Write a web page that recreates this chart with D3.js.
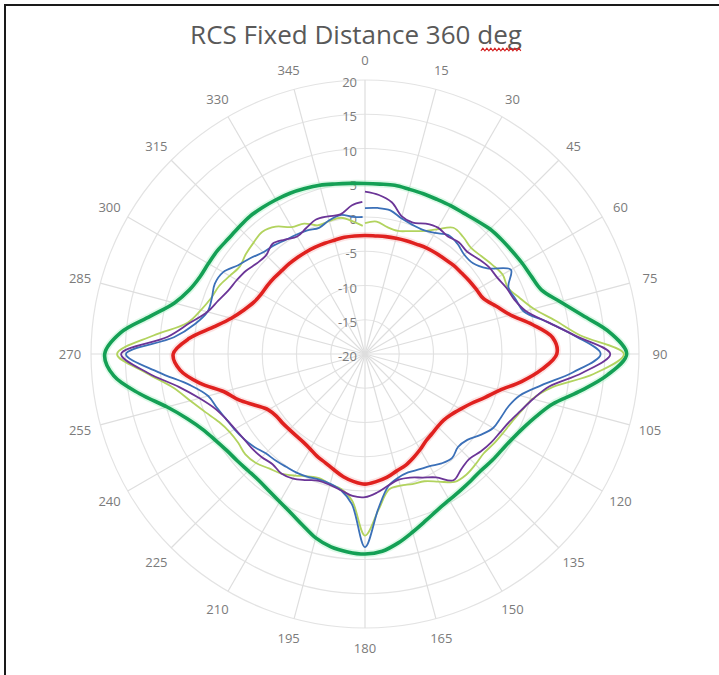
<!DOCTYPE html>
<html><head><meta charset="utf-8">
<script src="https://cdn.jsdelivr.net/npm/d3@7/dist/d3.min.js"></script>
<style>body{margin:0;background:#fff}svg{display:block}</style></head>
<body><svg id="c" width="719" height="675"></svg>
<script>
const title = "RCS Fixed Distance 360 deg";
const angles = [0,5,10,15,20,25,30,35,40,45,50,55,60,65,70,75,80,85,90,95,100,105,110,115,120,125,130,135,140,145,150,155,160,165,170,175,180,185,190,195,200,205,210,215,220,225,230,235,240,245,250,255,260,265,270,275,280,285,290,295,300,305,310,315,320,325,330,335,340,345,350,355,359];
const angleTicks = [0,15,30,45,60,75,90,105,120,135,150,165,180,195,210,225,240,255,270,285,300,315,330,345];
const radialTicks = [-20,-15,-10,-5,0,5,10,15,20];
const greenSeries = [4.9,4.9,5.0,4.9,4.9,4.9,5.0,5.1,5.4,5.8,6.0,6.2,6.5,6.8,7.4,9.5,12.3,15.9,18.2,15.5,11.7,8.3,6.6,5.5,4.8,4.4,4.2,4.0,4.1,4.3,4.6,5.1,5.9,6.9,8.0,8.9,9.2,9.0,8.6,7.8,6.6,5.6,4.9,4.4,4.1,4.1,4.3,4.6,5.2,6.1,7.6,9.9,13.4,16.8,18.0,15.8,11.8,8.8,7.3,6.6,6.4,6.3,6.1,6.1,6.2,6.1,6.0,5.9,5.7,5.5,5.2,5.0,4.9];
const redSeries = [-2.7,-2.7,-2.6,-2.5,-2.4,-2.3,-2.1,-2.0,-1.9,-1.7,-1.6,-1.4,-1.2,-0.9,0.4,2.0,4.8,7.5,8.0,5.9,3.2,0.4,-1.4,-2.9,-3.9,-4.6,-5.0,-5.0,-4.8,-4.5,-3.9,-3.3,-2.7,-2.3,-1.7,-1.3,-1.0,-1.3,-1.8,-2.5,-3.1,-3.5,-4.0,-4.3,-4.4,-4.4,-4.3,-4.2,-3.7,-2.3,-0.4,1.3,4.5,7.1,8.0,5.8,2.5,0.2,-1.2,-2.1,-2.5,-2.6,-2.7,-2.8,-2.8,-2.8,-2.8,-2.8,-2.8,-2.8,-2.7,-2.7,-2.7];
const purpleSeries = [3.7,3.3,2.5,0.8,0.4,1.0,1.3,1.0,1.3,1.1,1.6,2.1,2.3,2.8,3.2,4.3,7.0,10.8,15.8,11.8,7.3,5.4,4.2,3.3,2.8,2.5,2.1,1.6,1.9,2.5,0.8,-0.1,-0.8,-1.0,-0.5,0.3,0.9,0.8,0.2,-0.2,-0.3,0.3,1.0,1.3,1.0,1.3,1.5,1.6,1.9,2.4,3.3,5.0,7.6,11.8,15.6,8.9,6.0,3.8,2.8,2.0,1.6,1.2,0.6,0.4,1.0,0.4,-0.2,0.3,0.9,0.8,0.7,1.8,2.2];
const blueSeries = [1.3,1.4,1.3,0.5,0.1,0.0,0.4,1.2,1.0,0.5,0.6,1.8,4.6,3.1,3.4,4.0,7.0,10.7,14.4,10.5,6.2,3.4,2.3,1.9,1.6,0.6,-0.5,-0.8,-0.2,-0.5,-1.1,-1.4,-1.6,-1.3,-0.4,2.6,8.2,2.0,0.2,-0.4,-0.5,-0.2,0.0,0.1,0.3,0.5,1.1,1.6,2.0,2.4,3.0,3.7,6.0,10.3,14.9,8.0,5.2,3.8,3.8,4.2,3.9,2.6,1.8,1.0,0.7,0.3,0.1,-0.1,-0.4,0.2,0.6,0.1,0.0];
const limeSeries = [-0.9,-0.6,-1.2,-1.4,-0.9,-0.2,1.0,2.5,2.3,1.9,2.2,2.7,3.2,3.0,4.0,5.5,8.2,11.5,17.8,13.5,7.8,5.3,4.3,3.6,3.2,2.9,2.6,2.8,3.0,2.8,1.5,0.5,0.2,-0.1,0.1,2.8,6.5,1.5,0.0,-0.3,-0.7,-0.3,0.5,1.3,1.8,2.5,2.8,2.6,2.8,3.5,4.8,6.4,8.4,12.0,16.2,11.0,6.3,4.8,3.9,3.5,2.8,2.3,2.7,3.0,3.3,2.7,1.4,1.0,0.0,0.1,0.2,-0.6,-1.3];

const W = 719, H = 675, cx = 365, cy = 354, R = 274;
const svg = d3.select("#c");
svg.append("rect").attr("width", W).attr("height", H).attr("fill", "#fff");

// frame
svg.append("path").attr("d", `M5,${H} V5 H${W}`).attr("fill", "none").attr("stroke", "#1a1a1a").attr("stroke-width", 2);

const r = d3.scaleLinear().domain([-20, 20]).range([0, R]);
const a = d3.scaleLinear().domain([0, 360]).range([0, 2 * Math.PI]);
const g = svg.append("g").attr("transform", `translate(${cx},${cy})`);

// rings
g.selectAll("circle.ring").data(radialTicks.slice(1)).join("circle")
  .attr("class", "ring").attr("r", d => r(d)).attr("fill", "none")
  .attr("stroke", "#e3e3e3").attr("stroke-width", 1.2);
// spokes
g.selectAll("line.spoke").data(angleTicks).join("line")
  .attr("x1", 0).attr("y1", 0)
  .attr("x2", d => R * Math.sin(a(d))).attr("y2", d => -R * Math.cos(a(d)))
  .attr("stroke", "#dedede").attr("stroke-width", 1.2);

const labelFont = "'Open Sans', 'Liberation Sans', sans-serif";
// angle labels
g.selectAll("text.ang").data(angleTicks).join("text")
  .attr("x", d => 295 * Math.sin(a(d))).attr("y", d => -294 * Math.cos(a(d)))
  .attr("text-anchor", "middle").attr("dominant-baseline", "central")
  .attr("font-family", labelFont).attr("font-size", 13).attr("fill", "#7b7b7b")
  .text(d => d);
// radial labels
g.selectAll("text.rad").data(radialTicks).join("text")
  .attr("x", -8).attr("y", d => -r(d) + 2)
  .attr("text-anchor", "end").attr("dominant-baseline", "central")
  .attr("font-family", labelFont).attr("font-size", 13).attr("fill", "#7b7b7b")
  .text(d => d);

// title
const t = svg.append("text").attr("x", 356).attr("y", 44).attr("text-anchor", "middle")
  .attr("font-family", "'Open Sans', 'Liberation Sans', sans-serif").attr("font-size", 24)
  .attr("fill", "#595959").text(title);
const tw = t.node().getComputedTextLength();
t.attr("font-size", 24 * 332 / tw);
const bb = t.node().getBBox();
// spell-check squiggle under "deg"
let sq = "";
const sx0 = bb.x + bb.width - 41, sx1 = bb.x + bb.width, sy = 49.5;
for (let x = sx0, i = 0; x <= sx1; x += 2, i++) sq += (i ? "L" : "M") + x + "," + (sy + (i % 2 ? -1.3 : 1.3));
svg.append("path").attr("d", sq).attr("fill", "none").attr("stroke", "#d42020").attr("stroke-width", 1.1);

const pts = vals => angles.map((d, i) => [a(d), r(vals[i])]);
const closedLine = d3.lineRadial().curve(d3.curveCatmullRomClosed.alpha(0.5));
const openLine = d3.lineRadial().curve(d3.curveCatmullRom.alpha(0.5));

function closedSeries(vals, color, halo) {
  const p = pts(vals).slice(0, angles.length - 1);
  g.append("path").attr("d", closedLine(p)).attr("fill", "none").attr("stroke", halo).attr("stroke-width", 7).attr("stroke-opacity", 0.35);
  g.append("path").attr("d", closedLine(p)).attr("fill", "none").attr("stroke", color).attr("stroke-width", 3.6).attr("stroke-linejoin", "round");
}
function openSeries(vals, color, w) {
  g.append("path").attr("d", openLine(pts(vals))).attr("fill", "none").attr("stroke", color).attr("stroke-width", w).attr("stroke-linejoin", "round");
}
closedSeries(greenSeries, "#14a055", "#9fefb9");
closedSeries(redSeries, "#e0211f", "#f7b0b0");
openSeries(limeSeries, "#b2d35e", 1.8);
openSeries(blueSeries, "#3b70b8", 1.8);
openSeries(purpleSeries, "#6b3597", 1.8);
</script></body></html>
